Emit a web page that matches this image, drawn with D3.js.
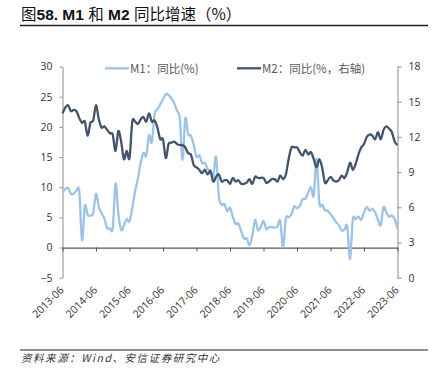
<!DOCTYPE html>
<html>
<head>
<meta charset="utf-8">
<script src="https://cdn.jsdelivr.net/npm/d3@7"></script>
<style>
  html, body { margin: 0; padding: 0; background: #fff; }
  svg { display: block; }
</style>
</head>
<body>
<svg id="chart" width="448" height="380"></svg>
<script>
// ---------------- DATA ----------------
const startYear = 2013, startMonth = 6;   // first observation: 2013-06 (monthly)
const xTickLabels = ["2013-06","2014-06","2015-06","2016-06","2017-06","2018-06","2019-06","2020-06","2021-06","2022-06","2023-06"];
const leftTicks = [-5, 0, 5, 10, 15, 20, 25, 30];
const rightTicks = [0, 3, 6, 9, 12, 15, 18];
const seriesNames = ["M1：同比(%)", "M2：同比(%，右轴)"];

const m1 = [
  9.1, 9.7, 9.9, 8.9, 8.9, 9.4, 9.3,
  1.2, 6.9, 5.4, 5.3, 5.7, 8.9, 6.7, 5.7, 4.8, 3.2, 3.2, 3.2,
  10.6, 5.6, 2.9, 3.7, 4.7, 4.3, 6.6, 9.3, 11.4, 14.0, 15.7, 15.2,
  18.6, 17.4, 22.1, 22.9, 23.7, 24.6, 25.4, 25.3, 24.7, 23.9, 22.7, 21.4,
  14.5, 21.4, 18.8, 18.5, 17.0, 15.0, 15.3, 14.0, 14.0, 13.0, 12.7, 11.8,
  15.0, 8.5, 7.1, 7.2, 6.0, 6.6, 5.1, 3.9, 4.0, 2.7, 1.5, 1.5,
  0.4, 2.0, 4.6, 2.9, 3.4, 4.4, 3.1, 3.4, 3.4, 3.3, 3.5, 4.4,
  0.0, 4.8, 5.0, 5.5, 6.8, 6.5, 6.9, 8.0, 8.1, 9.1, 10.0, 8.6,
  14.7, 7.4, 7.1, 6.2, 6.1, 5.5, 4.9, 4.2, 3.7, 2.8, 3.0, 3.5,
  -1.9, 4.7, 4.7, 5.1, 4.6, 5.8, 6.7, 6.1, 6.4, 5.8, 4.6, 3.7,
  6.7, 5.8, 5.1, 5.3, 4.7, 3.1
];
const m2 = [
  14.0, 14.5, 14.7, 14.2, 14.3, 14.2, 13.6,
  13.2, 13.3, 12.1, 13.2, 13.4, 14.7, 13.5, 12.8, 12.9, 12.6, 12.3, 12.2,
  10.8, 12.5, 11.6, 10.1, 10.8, 10.2, 13.3, 13.3, 13.1, 13.5, 13.7, 13.3,
  14.0, 13.3, 13.4, 12.8, 11.8, 11.8, 10.2, 11.4, 11.5, 11.6, 11.4, 11.3,
  11.3, 11.1, 10.6, 10.5, 9.6, 9.4, 9.2, 8.9, 9.2, 8.8, 9.1, 8.2,
  8.6, 8.8, 8.2, 8.3, 8.3, 8.0, 8.5, 8.2, 8.3, 8.0, 8.0, 8.1,
  8.4, 8.0, 8.6, 8.5, 8.5, 8.5, 8.1, 8.2, 8.4, 8.4, 8.2, 8.7,
  8.4, 8.8, 10.1, 11.1, 11.1, 11.1, 10.7, 10.4, 10.9, 10.5, 10.7, 10.1,
  9.4, 10.1, 9.4, 8.1, 8.3, 8.6, 8.3, 8.2, 8.3, 8.7, 8.5, 9.0,
  9.8, 9.2, 9.7, 10.5, 11.1, 11.4, 12.0, 12.2, 12.1, 11.8, 12.4, 11.8,
  12.6, 12.9, 12.7, 12.4, 11.6, 11.3
];

// ---------------- LAYOUT ----------------
const svg = d3.select("#chart");
const L = 62.5, R = 397.5, T = 66.5, B = 277.7;
const colM1 = "#9DC3E6", colM2 = "#44546A";
const tickFont = "'Open Sans','Noto Sans CJK SC',sans-serif";

const x = d3.scaleLinear().domain([0, m1.length - 1]).range([L, R]);
const yL = d3.scaleLinear().domain([-5, 30]).range([B, T]);
const yR = d3.scaleLinear().domain([0, 18]).range([B, T]);

// Title
const title = svg.append("text").attr("x", 21).attr("y", 20)
  .attr("font-size", 15.5).attr("fill", "#111");
const titleParts = [["图", false], ["58. M1 ", true], ["和", false], [" M2 ", true], ["同比增速（%）", false]];
titleParts.forEach(([t, b]) => {
  title.append("tspan").text(t)
    .attr("font-family", b ? "'Liberation Sans',Arial,sans-serif" : "'Noto Sans CJK SC',sans-serif")
    .attr("font-weight", b ? "bold" : "normal");
});
svg.append("line").attr("x1", 20).attr("x2", 428).attr("y1", 25.5).attr("y2", 25.5)
  .attr("stroke", "#222").attr("stroke-width", 1.5);

// Left axis
const gL = svg.append("g").attr("transform", `translate(${L},0)`)
  .call(d3.axisLeft(yL).tickValues(leftTicks).tickSize(3).tickPadding(7).tickSizeOuter(0));
// Right axis
const gR = svg.append("g").attr("transform", `translate(${R},0)`)
  .call(d3.axisRight(yR).tickValues(rightTicks).tickSize(4).tickPadding(7).tickSizeOuter(0));
[gL, gR].forEach(g => {
  g.select(".domain").attr("stroke", "#8c8c8c").attr("stroke-width", 1);
  g.selectAll(".tick line").attr("stroke", "#8c8c8c");
  g.selectAll("text").attr("font-family", tickFont).attr("font-size", 10.5).attr("fill", "#333");
});

// Bottom axis at value 0
const xTickIdx = xTickLabels.map((d, i) => i * 12);
const gX = svg.append("g").attr("transform", `translate(0,${yL(0)})`)
  .call(d3.axisBottom(x).tickValues(xTickIdx).tickSize(4).tickSizeOuter(0).tickFormat(""));
gX.select(".domain").attr("stroke", "#595959").attr("stroke-width", 1.2);
gX.selectAll(".tick line").attr("stroke", "#595959");

// Rotated category labels at the bottom of plot
svg.append("g").selectAll("text").data(xTickIdx).join("text")
  .attr("transform", (d) => `translate(${x(d) + 2},${B + 13}) rotate(-45)`)
  .attr("text-anchor", "end")
  .attr("font-family", tickFont).attr("font-size", 10.5).attr("fill", "#333")
  .text((d, i) => xTickLabels[i]);

// Lines
const curve = d3.curveCatmullRom.alpha(0);
const lineM1 = d3.line().x((d, i) => x(i)).y(d => yL(d)).curve(curve);
const lineM2 = d3.line().x((d, i) => x(i)).y(d => yR(d)).curve(curve);
svg.append("path").datum(m1).attr("d", lineM1).attr("fill", "none")
  .attr("stroke", colM1).attr("stroke-width", 2.3).attr("stroke-linejoin", "round");
svg.append("path").datum(m2).attr("d", lineM2).attr("fill", "none")
  .attr("stroke", colM2).attr("stroke-width", 2.3).attr("stroke-linejoin", "round");

// Legend
svg.append("rect").attr("x", 100).attr("y", 57).attr("width", 272).attr("height", 21).attr("fill", "#fff");
const legend = [
  { name: seriesNames[0], color: colM1, x0: 105 },
  { name: seriesNames[1], color: colM2, x0: 237 }
];
legend.forEach(l => {
  svg.append("line").attr("x1", l.x0).attr("x2", l.x0 + 24).attr("y1", 68.3).attr("y2", 68.3)
    .attr("stroke", l.color).attr("stroke-width", 2.3);
  svg.append("text").attr("x", l.x0 + 25).attr("y", 72.5)
    .attr("font-family", "'Noto Sans CJK SC',sans-serif").attr("font-size", 11.5).attr("fill", "#595959")
    .text(l.name);
});

// Footer
svg.append("line").attr("x1", 20).attr("x2", 428).attr("y1", 350).attr("y2", 350)
  .attr("stroke", "#222").attr("stroke-width", 1.2);
svg.append("text").attr("x", 21).attr("y", 362)
  .attr("font-family", "'Noto Sans CJK SC',sans-serif").attr("font-size", 10.5)
  .attr("font-style", "italic").attr("letter-spacing", 1.55).attr("fill", "#333")
  .text("资料来源：Wind、安信证券研究中心");
</script>
</body>
</html>
